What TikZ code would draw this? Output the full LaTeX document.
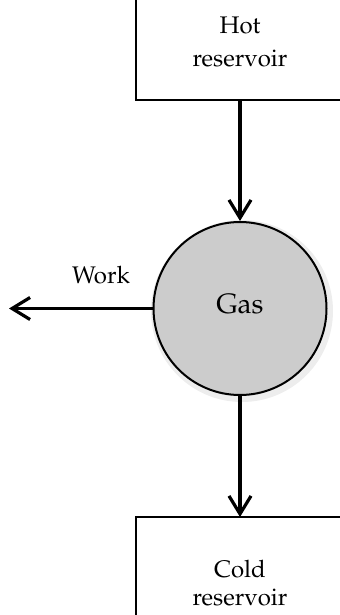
\documentclass[tikz,border=0pt]{standalone}
\usepackage[T1]{fontenc}
\usepackage{mathpazo}
\usetikzlibrary{arrows.meta}
\tikzset{
  boxline/.style={line width=1.2pt, line cap=rect},
  flow/.style={line width=1.6pt, -{Straight Barb[length=9pt,width=11pt,line width=1.6pt]}},
  lbl/.style={font=\fontsize{12}{15}\selectfont, inner sep=0pt, align=center},
  gasnode/.style={circle, draw, line width=1pt, fill=black!20, minimum size=86.5pt, inner sep=0pt, font=\fontsize{14}{16}\selectfont}
}
\begin{document}
\begin{tikzpicture}[x=0.5pt,y=-0.5pt]
\useasboundingbox (0,0) rectangle (339,615);
% soft halo of the gas circle
\fill[black!7] (242,311) circle (91);
% hot reservoir (cut by the page edge)
\draw[boxline] (136,0) -- (136,100) -- (339,100);
\coordinate (hotout) at (240,100);
\node[lbl, anchor=base] (hot1) at (240,34) {Hot};
\node[lbl, anchor=base] (hot2) at (240,67) {reservoir};
% cold reservoir
\draw[boxline] (136,615) -- (136,517) -- (339,517);
\coordinate (coldin) at (240,517);
\node[lbl, anchor=base] (cold1) at (240,577) {Cold};
\node[lbl, anchor=base] (cold2) at (240,605) {reservoir};
% gas
\node[gasnode] (gas) at (240,308.5) {};
\node[font=\fontsize{14}{16}\selectfont, inner sep=0pt, anchor=base] (gaslbl) at (240,313) {Gas};
% work
\coordinate (workend) at (9,308.5);
\node[lbl, anchor=base] (work) at (101,283) {Work};
% connectors
\draw[flow] (hotout) -- (gas.north);
\draw[flow] (gas.south) -- (coldin);
\draw[flow] (gas.west) -- (workend);
\end{tikzpicture}
\end{document}
